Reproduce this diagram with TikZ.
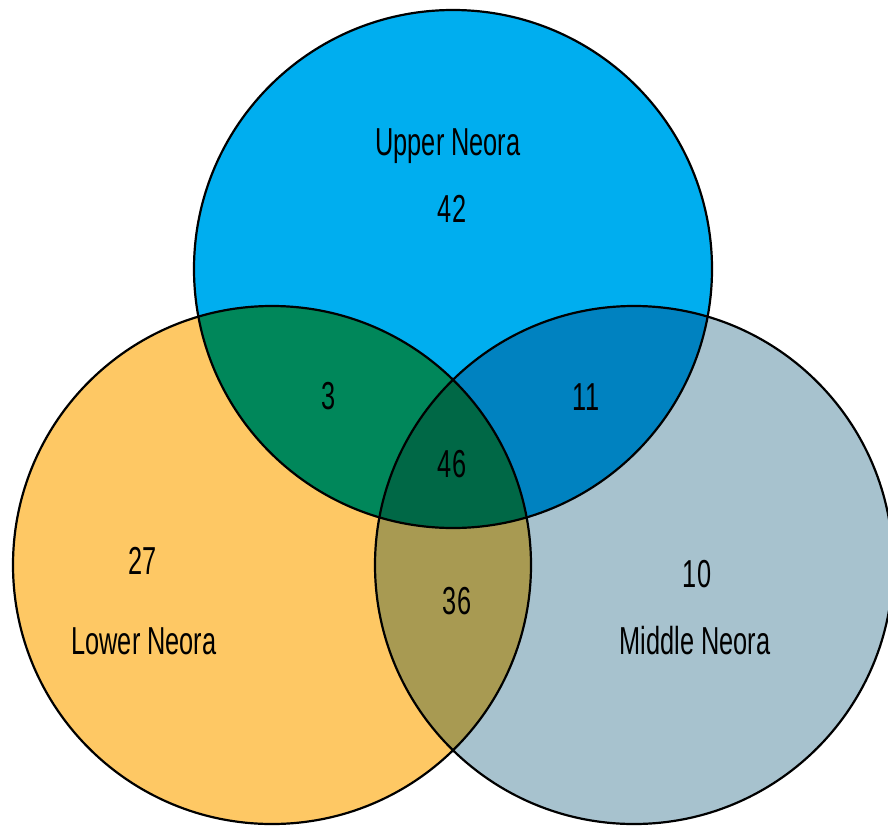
\documentclass[tikz,border=0pt]{standalone}
\usepackage{fontspec}
\newfontfamily\agency[FakeStretch=0.65]{Liberation Sans}
\definecolor{cTop}{HTML}{00AEEF}
\definecolor{cLeft}{HTML}{FEC864}
\definecolor{cRight}{HTML}{A7C2CE}
\definecolor{cTL}{HTML}{00875A}
\definecolor{cTR}{HTML}{0082C0}
\definecolor{cLR}{HTML}{A89A52}
\definecolor{cAll}{HTML}{006846}
\begin{document}
\begin{tikzpicture}[x=1pt,y=-1pt,
  lbl/.style={font=\agency\fontsize{39}{46}\selectfont, text=black, inner sep=0pt},
  ring/.style={draw=black, line width=2.2pt}]
\useasboundingbox (0,0) rectangle (888,827);
\begin{scope}
\clip (0,0) rectangle (888,827);
\coordinate (T) at (453,269);
\coordinate (L) at (272,565);
\coordinate (R) at (634,565);
\def\rad{259}
\fill[cTop] (T) circle[radius=\rad];
\fill[cLeft] (L) circle[radius=\rad];
\fill[cRight] (R) circle[radius=\rad];
\begin{scope}
  \clip (T) circle[radius=\rad];
  \fill[cTL] (L) circle[radius=\rad];
  \fill[cTR] (R) circle[radius=\rad];
\end{scope}
\begin{scope}
  \clip (L) circle[radius=\rad];
  \fill[cLR] (R) circle[radius=\rad];
  \clip (R) circle[radius=\rad];
  \fill[cAll] (T) circle[radius=\rad];
\end{scope}
\draw[ring] (T) circle[radius=\rad];
\draw[ring] (L) circle[radius=\rad];
\draw[ring] (R) circle[radius=\rad];
\end{scope}
\node[lbl] (nUp) at (448,146) {Upper Neora};
\node[lbl] (n42) at (452,209) {42};
\node[lbl] (n3) at (329,396) {3};
\node[lbl] (n11) at (586,397) {11};
\node[lbl] (n46) at (452,464) {46};
\node[lbl] (n36) at (457,601) {36};
\node[lbl] (n27) at (143,561) {27};
\node[lbl] (nLow) at (144,641) {Lower Neora};
\node[lbl] (n10) at (697,574) {10};
\node[lbl] (nMid) at (695,641) {Middle Neora};
\end{tikzpicture}
\end{document}
